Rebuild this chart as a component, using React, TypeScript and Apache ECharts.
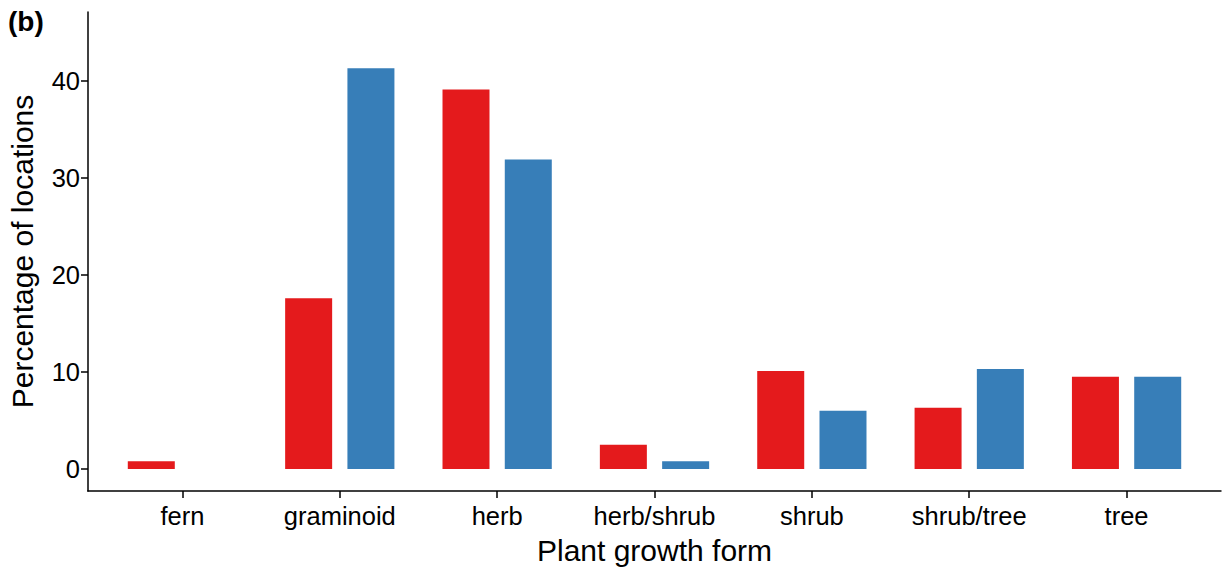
import React, { useEffect, useRef } from "react";
import * as echarts from "echarts";

const categories = ["fern", "graminoid", "herb", "herb/shrub", "shrub", "shrub/tree", "tree"];
const redValues = [0.8, 17.6, 39.1, 2.5, 10.1, 6.3, 9.5];
const blueValues = [0, 41.3, 31.9, 0.8, 6.0, 10.3, 9.5];
const yTicks = [0, 10, 20, 30, 40];

export default function App() {
  const ref = useRef<HTMLDivElement>(null);
  useEffect(() => {
    if (!ref.current) return;
    const chart = echarts.init(ref.current, null, { renderer: "svg" });
    const font = "Liberation Sans, Arial, sans-serif";
    chart.setOption({
      animation: false,
      backgroundColor: "#ffffff",
      textStyle: { fontFamily: font },
      grid: { left: 103.75, right: 19.75, top: 12, bottom: 81, containLabel: false, outerBoundsMode: "none" },
      xAxis: {
        type: "category",
        data: categories,
        axisLine: { show: false, onZero: false },
        axisTick: { show: true, alignWithLabel: true, length: 7, lineStyle: { color: "#000", width: 1.5 } },
        axisLabel: { color: "#000", fontSize: 25.5, margin: 12, fontFamily: font, interval: 0 },
        name: "Plant growth form",
        nameLocation: "middle",
        nameGap: 44,
        nameTextStyle: { color: "#000", fontSize: 30, fontFamily: font },
      },
      yAxis: {
        type: "value",
        min: -2.27,
        max: 47.1,
        offset: 15.75,
        splitLine: { show: false },
        axisLine: { show: true, lineStyle: { color: "#000", width: 1.5 } },
        axisTick: { show: true, length: 7, customValues: yTicks, lineStyle: { color: "#000", width: 1.5 } },
        axisLabel: { color: "#000", fontSize: 25.5, margin: 8, customValues: yTicks, fontFamily: font },
        name: "Percentage of locations",
        nameLocation: "middle",
        nameRotate: 90,
        nameGap: 51,
        nameTextStyle: { color: "#000", fontSize: 30, fontFamily: font },
      },
      series: [
        {
          type: "bar",
          data: redValues,
          barWidth: 47,
          barGap: "32.5%",
          itemStyle: { color: "#E41A1C" },
        },
        {
          type: "bar",
          data: blueValues,
          barWidth: 47,
          barGap: "32.5%",
          itemStyle: { color: "#377EB8" },
        },
      ],
      graphic: [
        {
          type: "line",
          shape: { x1: 87.3, y1: 491, x2: 1221.5, y2: 491 },
          style: { stroke: "#000", lineWidth: 1.5 },
        },
        {
          type: "text",
          left: 8,
          top: 7,
          style: { text: "(b)", fontSize: 28, fontWeight: "bold", fill: "#000", fontFamily: font },
        },
      ],
    });
    return () => chart.dispose();
  }, []);
  return (
    <div
      ref={ref}
      style={{ position: "absolute", left: 0, top: 0, width: 1225, height: 572 }}
    />
  );
}
